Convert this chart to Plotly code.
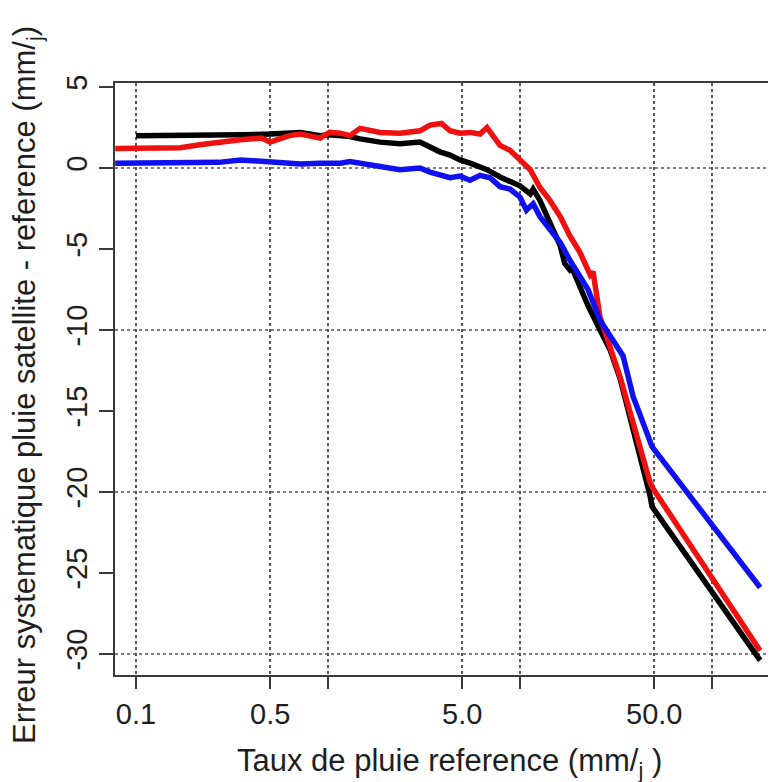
import plotly.graph_objects as go

# ---- data ----
black_x = [0.1, 0.17, 0.27, 0.35, 0.5, 0.63, 0.72, 0.91, 1.02, 1.3, 1.47, 1.87, 2.37, 3.01, 3.4, 3.83,
           4.32, 4.87, 5.49, 6.19, 6.73, 7.87, 8.87, 10, 11.3, 11.7, 12.7, 14.3, 16.2, 17.1, 18.2, 18.7,
           20.5, 22.6, 26.1, 29.4, 33.2, 37.4, 42.2, 47.5, 48.7, 178]
black_y = [2.0, 2.0, 2.0, 2.05, 2.1, 2.15, 2.2, 2.0, 2.05, 1.95, 1.8, 1.6, 1.5, 1.6, 1.3, 1.0,
           0.8, 0.5, 0.3, 0.05, -0.1, -0.55, -0.8, -1.1, -1.6, -1.3, -2.0, -3.4, -4.8, -5.9, -6.3, -6.2,
           -7.4, -8.5, -10.0, -11.2, -13.0, -15.3, -17.8, -20.2, -20.9, -30.4]

red_x = [0.078, 0.13, 0.17, 0.22, 0.27, 0.35, 0.45, 0.5, 0.63, 0.72, 0.91, 1.02, 1.16, 1.3, 1.47, 1.87,
         2.37, 3.01, 3.4, 3.9, 4.32, 4.87, 5.49, 6.19, 6.73, 7.87, 8.87, 10, 11.3, 12.7, 14.3, 16.2,
         18.2, 20.5, 23.2, 24.0, 26.1, 33.2, 42.2, 47.5, 49.3, 178]
red_y = [1.2, 1.2, 1.25, 1.45, 1.6, 1.75, 1.85, 1.6, 2.0, 2.1, 1.85, 2.2, 2.15, 2.0, 2.45, 2.2,
         2.15, 2.3, 2.65, 2.75, 2.3, 2.15, 2.2, 2.1, 2.5, 1.4, 1.1, 0.5, -0.1, -1.2, -2.0, -3.0,
         -4.2, -5.2, -6.6, -6.4, -9.2, -12.9, -17.4, -19.4, -19.8, -29.8]

blue_x = [0.078, 0.13, 0.17, 0.27, 0.35, 0.5, 0.72, 0.91, 1.16, 1.3, 1.87, 2.37, 3.01, 3.4, 4.32, 4.87,
          5.49, 6.19, 6.98, 7.87, 8.87, 10, 10.8, 11.7, 12.7, 16.2, 18.2, 20.5, 22.6, 26.1, 34.4, 38.8,
          45.8, 48.7, 178]
blue_y = [0.3, 0.3, 0.3, 0.35, 0.5, 0.4, 0.25, 0.3, 0.3, 0.4, 0.05, -0.1, 0.0, -0.25, -0.6, -0.5,
          -0.75, -0.45, -0.6, -1.15, -1.3, -1.8, -2.6, -2.2, -3.0, -4.6, -5.7, -6.7, -7.5, -9.4, -11.6, -14.1,
          -16.5, -17.2, -25.9]

x_tickvals = [0.1, 0.5, 1, 5, 10, 50, 100]
x_ticktext = ["0.1", "0.5", "", "5.0", "", "50.0", ""]
y_tickvals = [5, 0, -5, -10, -15, -20, -25, -30]
y_gridvals = [0, -10, -20, -30]

FONT = "Liberation Sans, Arial, sans-serif"
AXC = "#3a3a3a"
TXT = "#1e1e1e"

# the page body adds an 8px offset; plot area on the page: left 115, right 776, top 83, bottom 675
PW, PH = 661, 592

fig = go.Figure()
for xs, ys, col in [(black_x, black_y, "#000000"), (red_x, red_y, "#f01010"), (blue_x, blue_y, "#1010f0")]:
    fig.add_trace(go.Scatter(x=xs, y=ys, mode="lines", line=dict(color=col, width=5.5),
                             showlegend=False, hoverinfo="skip"))

for gv in y_gridvals:
    fig.add_shape(type="line", xref="paper", yref="y", x0=0, x1=1, y0=gv, y1=gv,
                  line=dict(color="#555555", width=1.5, dash="dot"), layer="below")

fig.update_layout(
    width=768, height=774,
    margin=dict(l=107, r=0, t=75, b=107, autoexpand=False),
    paper_bgcolor="white", plot_bgcolor="white",
    font=dict(family=FONT, size=29, color=TXT),
    xaxis=dict(type="log", range=[-1.109, 2.333], tickvals=x_tickvals, ticktext=x_ticktext,
               showgrid=True, gridcolor="#555555", gridwidth=1.5, griddash="dot",
               showline=True, linecolor=AXC, linewidth=2, mirror=True,
               ticks="outside", ticklen=12, tickwidth=2, tickcolor=AXC,
               zeroline=False, automargin=False, tickfont=dict(size=29, color=TXT)),
    yaxis=dict(range=[-31.3, 5.25], tickvals=y_tickvals, ticktext=[str(v) for v in y_tickvals],
               showgrid=False, showline=True, linecolor=AXC, linewidth=2,
               ticks="outside", ticklen=14, tickwidth=2, tickcolor=AXC,
               zeroline=False, automargin=False, tickangle=-90, tickfont=dict(size=29, color=TXT)),
    annotations=[
        dict(text="Taux de pluie reference (mm/<sub>j</sub> )", xref="paper", yref="paper",
             x=(449 - 115) / PW, y=-(763 - 675) / PH, xanchor="center", yanchor="middle",
             showarrow=False, font=dict(size=31, family=FONT, color=TXT)),
        dict(text="Erreur systematique pluie satellite - reference (mm/<sub>j</sub>)", xref="paper", yref="paper",
             x=-(115 - 27) / PW, y=(675 - 746) / PH, xanchor="center", yanchor="bottom",
             textangle=-90, showarrow=False, font=dict(size=31, family=FONT, color=TXT)),
    ],
)

fig.write_html("out.html")
